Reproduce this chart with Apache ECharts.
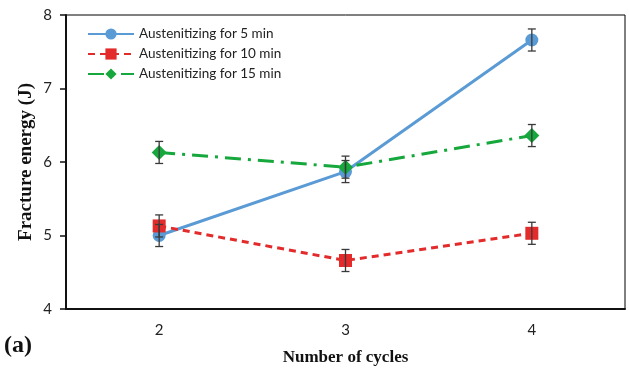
<!DOCTYPE html>
<html>
<head>
<meta charset="utf-8">
<script src="https://cdn.jsdelivr.net/npm/echarts@6/dist/echarts.min.js"></script>
<style>
  html, body { margin: 0; padding: 0; background: #fff; }
  #chart { width: 629px; height: 375px; }
</style>
</head>
<body>
<div id="chart"></div>
<script>
// data
var cycles = ["2", "3", "4"];
var names = ["Austenitizing for 5 min", "Austenitizing for 10 min", "Austenitizing for 15 min"];
var min5 = [5.00, 5.87, 7.66];
var min10 = [5.13, 4.66, 5.03];
var min15 = [6.13, 5.93, 6.36];
var err5 = [0.15, 0.15, 0.15];
var err10 = [0.15, 0.15, 0.15];
var err15 = [0.15, 0.15, 0.15];

var colors = ["#5b9bd5", "#e32b2b", "#16a83c"];

// error bar data: [category index, low, high]
function errData(vals, errs) {
    return vals.map(function (v, i) { return [i, v - errs[i], v + errs[i]]; });
}

function renderErr(params, api) {
    var x = api.value(0);
    var lo = api.coord([x, api.value(1)]);
    var hi = api.coord([x, api.value(2)]);
    var w = 4;
    var st = { stroke: "#3a3a3a", lineWidth: 1.3 };
    return {
        type: "group",
        children: [
            { type: "line", shape: { x1: lo[0], y1: lo[1], x2: hi[0], y2: hi[1] }, style: st },
            { type: "line", shape: { x1: lo[0] - w, y1: lo[1], x2: lo[0] + w, y2: lo[1] }, style: st },
            { type: "line", shape: { x1: hi[0] - w, y1: hi[1], x2: hi[0] + w, y2: hi[1] }, style: st }
        ]
    };
}

var myChart = echarts.init(document.getElementById("chart"));
var option = {
    animation: false,
    grid: {
        left: 66, right: 4, top: 15, bottom: 66,
        show: true, borderColor: "#000", borderWidth: 1
    },
    legend: {
        orient: "vertical",
        left: 82, top: 22,
        itemWidth: 46, itemHeight: 14, itemGap: 6,
        data: names,
        textStyle: { fontFamily: "Lato", fontSize: 13.5, color: "#222" }
    },
    xAxis: {
        type: "category",
        data: cycles,
        boundaryGap: true,
        name: "Number of cycles",
        nameLocation: "middle",
        nameGap: 40,
        nameTextStyle: { fontFamily: "Liberation Serif", fontWeight: "bold", fontSize: 17, color: "#111" },
        axisLine: { lineStyle: { color: "#111", width: 2 } },
        axisTick: { alignWithLabel: true, length: 6, lineStyle: { color: "#111", width: 1.5 } },
        axisLabel: { fontFamily: "Lato", fontSize: 15, color: "#222", margin: 14 },
        splitLine: { show: false }
    },
    yAxis: {
        type: "value",
        min: 4, max: 8, interval: 1,
        name: "Fracture energy (J)",
        nameLocation: "middle",
        nameGap: 30,
        nameMoveOverlap: false,
        nameTextStyle: { fontFamily: "Liberation Serif", fontWeight: "bold", fontSize: 19, color: "#111" },
        axisLine: { show: true, lineStyle: { color: "#111", width: 2 } },
        axisTick: { show: true, length: 6, lineStyle: { color: "#111", width: 1.5 } },
        axisLabel: { fontFamily: "Lato", fontSize: 15, color: "#222", margin: 14 },
        splitLine: { show: false }
    },
    series: [
        {
            name: names[0], type: "line", data: min5, z: 3,
            symbol: "circle", symbolSize: 13,
            itemStyle: { color: colors[0] },
            lineStyle: { color: colors[0], width: 3 }
        },
        {
            name: names[1], type: "line", data: min10, z: 3,
            symbol: "rect", symbolSize: 13,
            itemStyle: { color: colors[1] },
            lineStyle: { color: colors[1], width: 3, type: [7, 5] }
        },
        {
            name: names[2], type: "line", data: min15, z: 3,
            symbol: "diamond", symbolSize: 15,
            itemStyle: { color: colors[2] },
            lineStyle: { color: colors[2], width: 3, type: [16, 7, 3, 7] }
        },
        { type: "custom", renderItem: renderErr, data: errData(min5, err5), z: 4 },
        { type: "custom", renderItem: renderErr, data: errData(min10, err10), z: 4 },
        { type: "custom", renderItem: renderErr, data: errData(min15, err15), z: 4 }
    ],
    graphic: [
        {
            type: "text", left: 4, top: 334,
            style: { text: "(a)", fontFamily: "Liberation Serif", fontWeight: "bold", fontSize: 24, fill: "#111" }
        }
    ]
};
myChart.setOption(option);
</script>
</body>
</html>
